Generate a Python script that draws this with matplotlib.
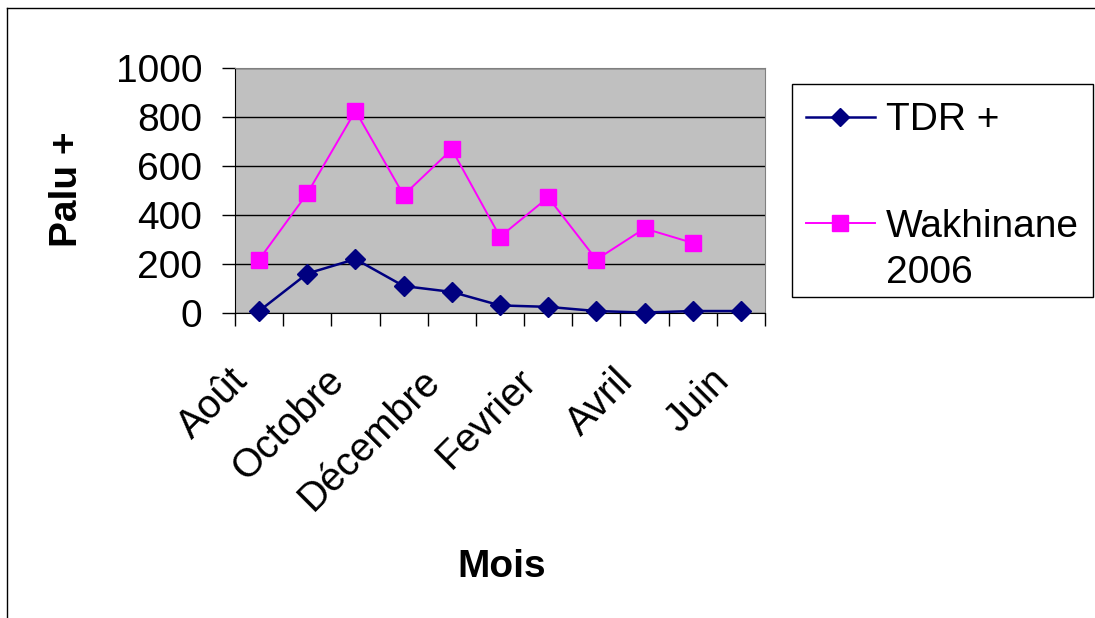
import matplotlib
matplotlib.use("Agg")
import matplotlib.pyplot as plt
import matplotlib.transforms as mtransforms
import numpy as np
from matplotlib.lines import Line2D
from matplotlib.patches import Rectangle

plt.rcParams['font.family'] = ['Liberation Sans', 'DejaVu Sans']

mois = ['Août', 'Septembre', 'Octobre', 'Novembre', 'Décembre', 'Janvier',
        'Fevrier', 'Mars', 'Avril', 'Mai', 'Juin']
tdr = [8, 161, 220, 110, 86, 31, 25, 8, 2, 8, 8]
wakhinane = [218, 488, 825, 481, 668, 311, 472, 218, 345, 286]
noms_series = ['TDR +', 'Wakhinane', '2006']

W, H = 1095, 618
fig = plt.figure(figsize=(W / 100, H / 100), dpi=100)
ax = fig.add_axes([235/W, 1 - 313/H, 530/W, 245/H])
ax.set_facecolor('#C0C0C0')

bleu = '#000080'
rose = '#FF00FF'

x = np.arange(len(mois))
ax.plot(x, tdr, color=bleu, lw=1.8, marker='D', markersize=10,
        markerfacecolor=bleu, markeredgecolor=bleu, zorder=3, clip_on=False)
ax.plot(x[:len(wakhinane)], wakhinane, color=rose, lw=1.4, marker='s',
        markersize=11, markerfacecolor=rose, markeredgecolor=rose, zorder=3)

ax.set_xlim(-0.5, len(mois) - 0.5)
ax.set_ylim(0, 1000)
ax.set_yticks(range(0, 1001, 200))
ax.yaxis.grid(True, color='black', lw=1)
ax.set_axisbelow(True)
ax.tick_params(axis='y', labelsize=28, length=9.5, width=1, direction='out', pad=14)

# category labels (every other month) and tick marks between categories
ax.set_xticks(x[::2])
ax.set_xticklabels(mois[::2], rotation=45, ha='right', va='top',
                   rotation_mode='anchor', fontsize=28.5)
ax.tick_params(axis='x', length=0, pad=35)
shift = mtransforms.ScaledTranslation(-0.31, 0, fig.dpi_scale_trans)
for lab in ax.get_xticklabels():
    lab.set_transform(lab.get_transform() + shift)
ax.set_xticks(np.arange(-0.5, len(mois), 1), minor=True)
ax.tick_params(axis='x', which='minor', length=9, width=1, direction='out')

for s in ['top', 'right']:
    ax.spines[s].set_color('#808080')
ax.spines['left'].set_color('black')
ax.spines['bottom'].set_color('black')

fig.text(67/W, 1 - 189/H, 'Palu +', rotation=90, fontsize=28,
         fontweight='bold', ha='center', va='center')
fig.text(502/W, 1 - 577/H, 'Mois', fontsize=28, fontweight='bold',
         ha='center', va='baseline')

# legend box drawn by hand (handle sits on the first line of the 2-line label)
fig.add_artist(Rectangle((792/W, 1 - 297/H), (1093 - 792)/W, (297 - 84)/H,
                         transform=fig.transFigure, facecolor='white',
                         edgecolor='black', lw=1))
for yl, col, mk, ms, lw in [(117, bleu, 'D', 9, 1.8), (223, rose, 's', 11, 1.4)]:
    fig.add_artist(Line2D([806/W, 875/W], [1 - yl/H] * 2, color=col, lw=lw,
                          transform=fig.transFigure))
    fig.add_artist(Line2D([840/W], [1 - yl/H], color=col, marker=mk,
                          markersize=ms, transform=fig.transFigure))
for nom, yb in zip(noms_series, [130, 237, 283]):
    fig.text(886/W, 1 - yb/H, nom, fontsize=28, ha='left', va='baseline')

# outer chart border
fig.add_artist(Line2D([7/W, 7/W], [0, 1 - 8/H], color='black', lw=1,
                      transform=fig.transFigure))
fig.add_artist(Line2D([7/W, 1], [1 - 8/H, 1 - 8/H], color='black', lw=1,
                      transform=fig.transFigure))

fig.savefig('out.png', dpi=100, facecolor='white')
